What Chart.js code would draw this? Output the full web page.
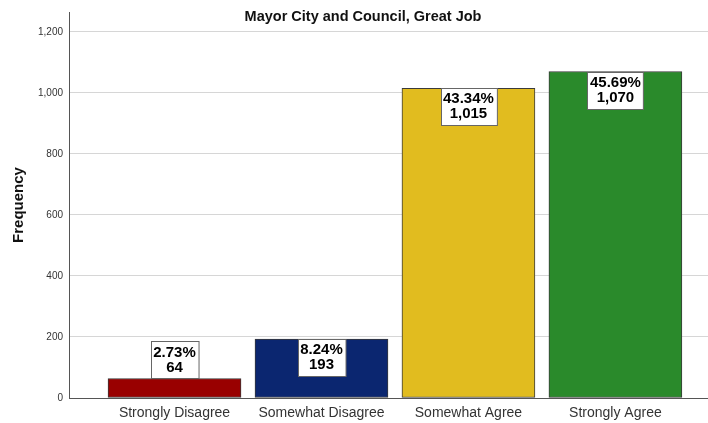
<!DOCTYPE html>
<html>
<head>
<meta charset="utf-8">
<script src="https://cdn.jsdelivr.net/npm/chart.js@4"></script>
<style>
  html, body { margin: 0; padding: 0; background: #fff; }
  #wrap { width: 708px; height: 423px; }
</style>
</head>
<body>
<div id="wrap"><canvas id="chart" width="708" height="423"></canvas></div>
<script>
// Chart data
const categories = ['Strongly Disagree', 'Somewhat Disagree', 'Somewhat Agree', 'Strongly Agree'];
const counts = [64, 193, 1015, 1070];
const percents = ['2.73%', '8.24%', '43.34%', '45.69%'];
const barColors = ['#990000', '#0b2670', '#e1bc1f', '#2a8a2b'];
const yTicks = [0, 200, 400, 600, 800, 1000, 1200];

const FONT = "'Liberation Sans', Arial, sans-serif";

// Title drawn inside the plot area, above the top gridline
const titlePlugin = {
    id: 'titleText',
    afterDraw(chart) {
        const ctx = chart.ctx;
        ctx.save();
        ctx.font = 'bold 14.5px ' + FONT;
        ctx.fillStyle = '#111';
        ctx.textAlign = 'center';
        ctx.textBaseline = 'middle';
        ctx.fillText('Mayor City and Council, Great Job', 363, 17);
        ctx.restore();
    }
};

// Percent / count boxes on each bar
const labelPlugin = {
    id: 'barLabels',
    afterDatasetsDraw(chart) {
        const ctx = chart.ctx;
        const meta = chart.getDatasetMeta(0);
        ctx.save();
        ctx.font = 'bold 15px ' + FONT;
        meta.data.forEach((bar, i) => {
            const lines = [percents[i], counts[i].toLocaleString('en-US')];
            const w = Math.max(...lines.map(t => ctx.measureText(t).width)) + 5;
            const h = 37;
            const barH = bar.base - bar.y;
            const top = barH < h + 4 ? bar.y - h : bar.y;
            const left = Math.round(bar.x - w / 2) + 0.5;
            ctx.fillStyle = '#fff';
            ctx.fillRect(left, Math.round(top) + 0.5, w, h);
            ctx.strokeStyle = '#666';
            ctx.lineWidth = 1;
            ctx.strokeRect(left, Math.round(top) + 0.5, w, h);
            ctx.fillStyle = '#000';
            ctx.textAlign = 'center';
            ctx.textBaseline = 'middle';
            ctx.fillText(lines[0], bar.x, top + 11);
            ctx.fillText(lines[1], bar.x, top + 26);
        });
        ctx.restore();
    }
};

const ctx = document.getElementById('chart').getContext('2d');
new Chart(ctx, {
    type: 'bar',
    data: {
        datasets: [{
            data: counts.map((v, i) => ({ x: i, y: v })),
            backgroundColor: barColors,
            borderColor: '#3a3a3a',
            borderWidth: 1,
            borderSkipped: false,
            barThickness: 133
        }]
    },
    options: {
        responsive: false,
        animation: false,
        layout: { padding: { top: 4, right: 0, left: 0, bottom: 0 } },
        plugins: {
            legend: { display: false },
            tooltip: { enabled: false },
            title: { display: false }
        },
        scales: {
            x: {
                type: 'linear',
                offset: false,
                min: -0.718,
                max: 3.63,
                afterBuildTicks(scale) {
                    scale.ticks = categories.map((c, i) => ({ value: i }));
                },
                afterFit(scale) { scale.height = 25; },
                grid: { display: false, drawTicks: false, offset: false },
                border: { display: true, color: '#555', width: 1 },
                ticks: {
                    padding: 7,
                    autoSkip: false,
                    maxRotation: 0,
                    color: '#333',
                    font: { family: FONT, size: 14 },
                    callback: (v) => categories[v]
                }
            },
            y: {
                min: 0,
                max: 1265,
                afterBuildTicks(scale) {
                    scale.ticks = yTicks.map(v => ({ value: v }));
                },
                afterFit(scale) { scale.width = 69; },
                grid: { color: '#d6d6d6', drawTicks: false },
                border: { display: true, color: '#555', width: 1 },
                ticks: {
                    padding: 6,
                    color: '#333',
                    font: { family: FONT, size: 10 },
                    callback: (v) => v.toLocaleString('en-US')
                },
                title: {
                    display: true,
                    text: 'Frequency',
                    color: '#111',
                    font: { family: FONT, size: 15, weight: 'bold' },
                    padding: { top: 10, bottom: 0 }
                }
            }
        }
    },
    plugins: [titlePlugin, labelPlugin]
});
</script>
</body>
</html>
